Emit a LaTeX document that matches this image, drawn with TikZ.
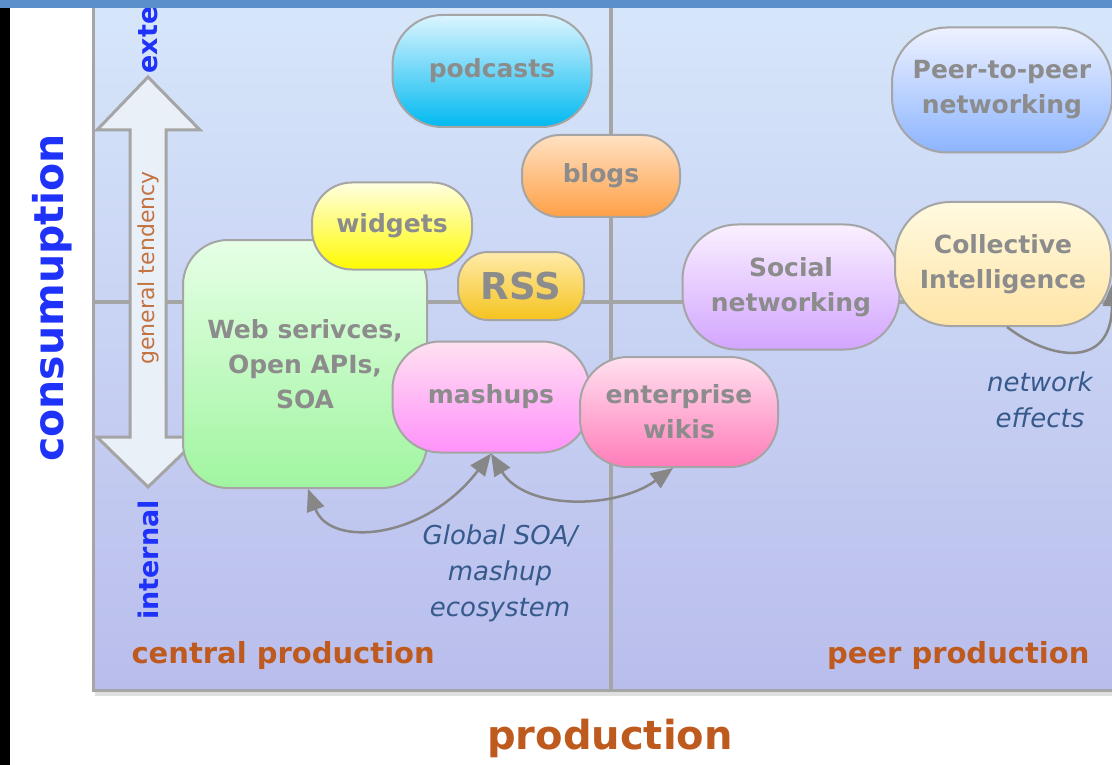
\documentclass[tikz,border=0pt]{standalone}
\usepackage{fontspec}
\setmainfont{DejaVu Sans}
\usetikzlibrary{arrows.meta}
\definecolor{barblue}{RGB}{91,143,203}
\definecolor{panetop}{RGB}{214,230,250}
\definecolor{panebot}{RGB}{185,189,236}
\definecolor{linegray}{RGB}{165,165,165}
\definecolor{textgray}{RGB}{140,140,140}
\definecolor{axisblue}{RGB}{30,50,250}
\definecolor{axisbrown}{RGB}{190,90,30}
\definecolor{tendbrown}{RGB}{195,115,65}
\definecolor{notecol}{RGB}{55,90,140}
\definecolor{arrowgray}{RGB}{135,135,135}
\definecolor{podtop}{RGB}{220,245,255}
\definecolor{podbot}{RGB}{0,185,240}
\definecolor{blogtop}{RGB}{255,225,195}
\definecolor{blogbot}{RGB}{255,160,70}
\definecolor{peertop}{RGB}{238,242,255}
\definecolor{peerbot}{RGB}{140,180,255}
\definecolor{widgtop}{RGB}{255,255,225}
\definecolor{widgbot}{RGB}{255,250,0}
\definecolor{rsstop}{RGB}{255,235,170}
\definecolor{rssbot}{RGB}{245,195,30}
\definecolor{webtop}{RGB}{230,255,230}
\definecolor{webbot}{RGB}{160,245,160}
\definecolor{mashtop}{RGB}{255,225,240}
\definecolor{mashbot}{RGB}{255,145,250}
\definecolor{wikitop}{RGB}{255,225,240}
\definecolor{wikibot}{RGB}{255,125,185}
\definecolor{soctop}{RGB}{250,240,255}
\definecolor{socbot}{RGB}{210,165,255}
\definecolor{colltop}{RGB}{255,250,225}
\definecolor{collbot}{RGB}{255,228,165}
\tikzset{
  bubble/.style={draw=linegray, line width=2pt, text=textgray, align=center, inner sep=0pt,
    font=\bfseries\fontsize{25}{35}\selectfont},
  axistext/.style={text=axisblue, font=\bfseries\fontsize{27}{32}\selectfont},
  quadlabel/.style={text=axisbrown, font=\bfseries\fontsize{29}{34}\selectfont},
  effectnote/.style={text=notecol, align=center, font=\itshape\fontsize{26}{36}\selectfont},
  link/.style={draw=arrowgray, line width=2.5pt, {Triangle[length=22pt,width=18pt]}-{Triangle[length=22pt,width=18pt]}},
}
\begin{document}
\begin{tikzpicture}[x=1pt,y=-1pt]
\useasboundingbox (0,0) rectangle (1112,765);
\fill[white] (0,0) rectangle (1112,765);
\fill[top color=panetop, bottom color=panebot] (93,8) rectangle (1112,690);
\draw[gray!25, line width=4] (95,694) -- (1112,694);
\draw[linegray, line width=3] (93,8) -- (93,690) -- (1112,690);
\draw[linegray, line width=4] (611,8) -- (611,690);
\draw[linegray, line width=4] (93,302) -- (1112,302);
\draw[linegray, line width=3, fill={rgb,255:red,234;green,240;blue,248}] (148,77) -- (200,130) -- (166,130) -- (166,437) -- (200,437) -- (148,487) -- (97,437) -- (130,437) -- (130,130) -- (97,130) -- cycle;
\node[rotate=90, text=tendbrown, font=\fontsize{22}{26}\selectfont] (tend) at (148,268) {general tendency};
\node[axistext, rotate=90, font=\bfseries\fontsize{41}{48}\selectfont] (cons) at (52,298) {consumuption};
\node[axistext, rotate=90, anchor=west] (ext) at (147,77) {external};
\node[axistext, rotate=90] (int) at (148,560) {internal};
\node[quadlabel, anchor=west] (central) at (128,655) {central production};
\node[quadlabel, anchor=east] (peerprod) at (1093,655) {peer production};
\node[quadlabel, font=\bfseries\fontsize{40}{46}\selectfont] (prod) at (610,738) {production};
\node[bubble, minimum width=199, minimum height=112, rounded corners=50, top color=podtop, bottom color=podbot] (podcasts) at (492,71) {podcasts};
\node[bubble, minimum width=158, minimum height=82, rounded corners=38, top color=blogtop, bottom color=blogbot] (blogs) at (601,176) {blogs};
\node[bubble, minimum width=220, minimum height=125, rounded corners=55, top color=peertop, bottom color=peerbot] (p2p) at (1002,90) {Peer-to-peer\\networking};
\node[bubble, minimum width=244, minimum height=248, rounded corners=45, top color=webtop, bottom color=webbot] (web) at (305,364) {Web serivces,\\Open APIs,\\SOA};
\node[bubble, minimum width=160, minimum height=87, rounded corners=40, top color=widgtop, bottom color=widgbot] (widgets) at (392,226) {widgets};
\node[bubble, minimum width=126, minimum height=68, rounded corners=30, top color=rsstop, bottom color=rssbot, font=\bfseries\fontsize{37}{40}\selectfont] (rss) at (521,286) {RSS};
\node[bubble, minimum width=197, minimum height=111, rounded corners=48, top color=mashtop, bottom color=mashbot] (mashups) at (491,397) {mashups};
\node[bubble, minimum width=198, minimum height=110, rounded corners=48, top color=wikitop, bottom color=wikibot] (wikis) at (679,412) {enterprise\\wikis};
\node[bubble, minimum width=217, minimum height=125, rounded corners=55, top color=soctop, bottom color=socbot] (social) at (791,287) {Social\\networking};
\node[bubble, minimum width=216, minimum height=124, rounded corners=55, top color=colltop, bottom color=collbot] (collint) at (1003,264) {Collective\\Intelligence};
\draw[link] ([xshift=3]web.south) .. controls (330,548) and (425,540) .. (mashups.south);
\draw[link] (mashups.south) .. controls (525,510) and (615,510) .. ([xshift=-6]wikis.south);
\draw[draw=arrowgray, line width=2.5pt, -{Triangle[length=22pt,width=18pt]}] ([xshift=4]collint.south) .. controls (1050,360) and (1112,370) .. ([yshift=-20]collint.east);
\node[effectnote] (soa) at (500,573) {Global SOA/\\mashup\\ecosystem};
\node[effectnote] (neteff) at (1040,400) {network\\effects};
\fill[barblue] (0,0) rectangle (1112,8);
\fill[black] (0,8) rectangle (10,765);
\end{tikzpicture}
\end{document}
